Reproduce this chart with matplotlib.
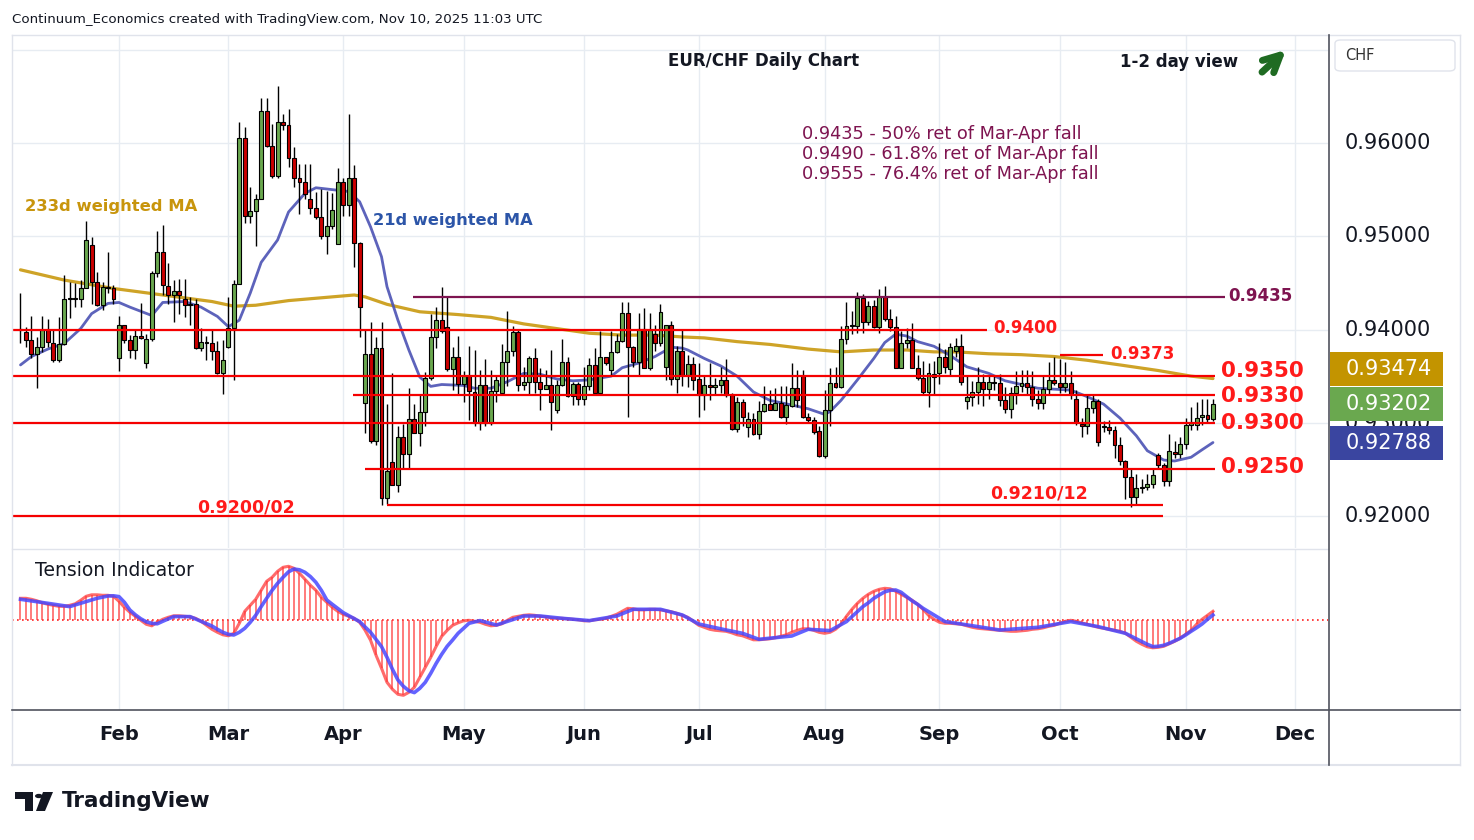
import numpy as np
import pandas as pd
import matplotlib
matplotlib.use('Agg')
import matplotlib.pyplot as plt
from matplotlib.lines import Line2D
from matplotlib.patches import Rectangle, Polygon, Circle, FancyBboxPatch

# ---- data: EUR/CHF daily candles, 8 Jan 2025 .. 10 Nov 2025 ----
dates = pd.bdate_range('2025-01-08', '2025-11-10')

opens = [
    .9400, .9397, .9389, .9374, .9381, .9400, .9386, .9367, .9384, .9433,
    .9434, .9433, .9445, .9491, .9451, .9426, .9446, .9444, .9369, .9405,
    .9389, .9378, .9393, .9364, .9390, .9461, .9483, .9447, .9437, .9441,
    .9433, .9427, .9427, .9380, .9387, .9386, .9377, .9353, .9381, .9402,
    .9449, .9605,
    .9522, .9527, .9540, .9634, .9597, .9565, .9622, .9619, .9584, .9562,
    .9558, .9540, .9530, .9521, .9500, .9511, .9492, .9558, .9534, .9562,
    .9493, .9321, .9374, .9280, .9380, .9219, .9258, .9233, .9285, .9266,
    .9304, .9289, .9311, .9348, .9392, .9410, .9403,
    .9358, .9371, .9342, .9350, .9333, .9300, .9340, .9300, .9334, .9332,
    .9365, .9377, .9397, .9341, .9344, .9369, .9344, .9336, .9341, .9314,
    .9341, .9365, .9329, .9342, .9326, .9339, .9362, .9332, .9371, .9357,
    .9376, .9388, .9418, .9381, .9365, .9401, .9359, .9395, .9385, .9360,
    .9405, .9347,
    .9377, .9351, .9363, .9347, .9330, .9341, .9338, .9341, .9346, .9330,
    .9293, .9322, .9295, .9304, .9288, .9313, .9320, .9314, .9321, .9306,
    .9318, .9337, .9350, .9306, .9303, .9291, .9264, .9314, .9343, .9338,
    .9390, .9404, .9404, .9434, .9408, .9425, .9403, .9435, .9411, .9403,
    .9359, .9386, .9389, .9359, .9348, .9333,
    .9352, .9353, .9370, .9358, .9377, .9382, .9323, .9328, .9333, .9344,
    .9336, .9344, .9343, .9324, .9315, .9332, .9339, .9343, .9338, .9325,
    .9321, .9336, .9346, .9343, .9338, .9343, .9326, .9299, .9297, .9316,
    .9323, .9296, .9295, .9292, .9276, .9259, .9242, .9220, .9230, .9231,
    .9234, .9265, .9255, .9237, .9269, .9267, .9277, .9298, .9298, .9306,
    .9308, .9304,
]
highs = [
    .9439, .9403, .9415, .9392, .9415, .9411, .9401, .9413, .9458, .9451,
    .9450, .9453, .9516, .9499, .9462, .9451, .9483, .9448, .9415, .9405,
    .9394, .9399, .9428, .9395, .9463, .9506, .9512, .9471, .9453, .9454,
    .9454, .9435, .9433, .9402, .9393, .9400, .9388, .9389, .9435, .9453,
    .9622, .9617,
    .9553, .9545, .9648, .9648, .9620, .9661, .9631, .9636, .9596, .9578,
    .9578, .9578, .9547, .9551, .9548, .9546, .9573, .9562, .9631, .9576,
    .9494, .9401, .9408, .9392, .9408, .9320, .9353, .9296, .9299, .9337,
    .9320, .9331, .9354, .9417, .9424, .9446, .9435,
    .9381, .9393, .9355, .9382, .9378, .9357, .9368, .9357, .9350, .9384,
    .9420, .9404, .9400, .9360, .9372, .9380, .9359, .9357, .9378, .9346,
    .9390, .9371, .9344, .9344, .9360, .9369, .9380, .9398, .9371, .9398,
    .9395, .9429, .9429, .9382, .9418, .9423, .9418, .9405, .9427, .9405,
    .9409, .9382,
    .9400, .9373, .9371, .9364, .9350, .9364, .9348, .9360, .9368, .9332,
    .9328, .9325, .9312, .9310, .9323, .9339, .9335, .9337, .9339, .9339,
    .9364, .9357, .9357, .9310, .9306, .9296, .9335, .9359, .9360, .9404,
    .9429, .9420, .9440, .9438, .9431, .9432, .9443, .9447, .9422, .9414,
    .9398, .9402, .9407, .9373, .9366, .9364,
    .9366, .9386, .9379, .9385, .9391, .9395, .9350, .9345, .9360, .9352,
    .9350, .9350, .9352, .9338, .9338, .9355, .9357, .9357, .9355, .9335,
    .9350, .9365, .9370, .9368, .9365, .9355, .9335, .9305, .9330, .9330,
    .9325, .9302, .9303, .9297, .9285, .9260, .9250, .9245, .9240, .9245,
    .9252, .9268, .9257, .9288, .9280, .9285, .9305, .9317, .9322, .9325,
    .9326, .9325,
]
lows = [
    .9385, .9381, .9369, .9337, .9376, .9381, .9365, .9365, .9383, .9412,
    .9424, .9424, .9444, .9427, .9425, .9421, .9439, .9427, .9356, .9385,
    .9369, .9368, .9390, .9359, .9388, .9456, .9437, .9427, .9408, .9417,
    .9413, .9405, .9379, .9377, .9367, .9367, .9352, .9331, .9380, .9346,
    .9449, .9514,
    .9514, .9490, .9540, .9596, .9563, .9563, .9614, .9574, .9553, .9524,
    .9540, .9524, .9518, .9497, .9481, .9508, .9492, .9522, .9522, .9467,
    .9392, .9289, .9278, .9276, .9212, .9213, .9233, .9226, .9251, .9251,
    .9289, .9275, .9296, .9346, .9380, .9396, .9356,
    .9335, .9330, .9322, .9303, .9297, .9292, .9296, .9298, .9322, .9330,
    .9339, .9372, .9334, .9335, .9330, .9332, .9314, .9337, .9292, .9310,
    .9339, .9328, .9319, .9319, .9319, .9335, .9332, .9332, .9362, .9350,
    .9375, .9387, .9306, .9360, .9350, .9359, .9357, .9377, .9382, .9346,
    .9341, .9332,
    .9339, .9338, .9335, .9306, .9314, .9324, .9330, .9332, .9328, .9292,
    .9290, .9296, .9285, .9287, .9283, .9312, .9314, .9314, .9305, .9299,
    .9317, .9317, .9305, .9301, .9288, .9263, .9262, .9297, .9337, .9337,
    .9384, .9395, .9396, .9396, .9405, .9402, .9396, .9409, .9398, .9359,
    .9359, .9380, .9359, .9346, .9330, .9317,
    .9330, .9342, .9353, .9350, .9370, .9340, .9315, .9318, .9320, .9318,
    .9325, .9335, .9318, .9310, .9305, .9320, .9333, .9330, .9318, .9315,
    .9315, .9330, .9340, .9332, .9333, .9325, .9298, .9285, .9288, .9310,
    .9275, .9290, .9288, .9262, .9255, .9218, .9210, .9212, .9225, .9228,
    .9230, .9250, .9232, .9232, .9262, .9262, .9272, .9292, .9292, .9298,
    .9300, .9302,
]
closes = [
    .9401, .9389, .9374, .9381, .9399, .9387, .9367, .9384, .9433, .9434,
    .9433, .9445, .9496, .9451, .9426, .9446, .9444, .9433, .9405, .9389,
    .9378, .9393, .9391, .9390, .9461, .9483, .9448, .9437, .9441, .9437,
    .9426, .9426, .9380, .9387, .9386, .9377, .9353, .9367, .9402, .9449,
    .9605, .9522,
    .9527, .9540, .9634, .9597, .9565, .9622, .9619, .9584, .9562, .9558,
    .9545, .9530, .9521, .9500, .9511, .9528, .9558, .9534, .9562, .9493,
    .9424, .9374, .9280, .9380, .9219, .9248, .9233, .9285, .9266, .9304,
    .9289, .9311, .9348, .9392, .9410, .9398, .9358,
    .9371, .9342, .9350, .9334, .9300, .9340, .9300, .9334, .9346, .9365,
    .9377, .9397, .9341, .9344, .9369, .9344, .9336, .9341, .9322, .9341,
    .9365, .9329, .9342, .9326, .9339, .9362, .9332, .9371, .9364, .9376,
    .9388, .9418, .9381, .9365, .9401, .9359, .9400, .9385, .9419, .9405,
    .9347, .9377,
    .9351, .9363, .9346, .9330, .9341, .9338, .9341, .9346, .9330, .9293,
    .9322, .9306, .9304, .9288, .9313, .9320, .9314, .9321, .9306, .9319,
    .9337, .9324, .9306, .9303, .9290, .9264, .9314, .9343, .9338, .9390,
    .9404, .9405, .9434, .9408, .9425, .9403, .9435, .9411, .9403, .9359,
    .9386, .9389, .9359, .9348, .9333, .9353,
    .9349, .9370, .9360, .9381, .9382, .9344, .9328, .9333, .9344, .9336,
    .9344, .9343, .9324, .9315, .9332, .9339, .9343, .9338, .9325, .9321,
    .9336, .9346, .9343, .9338, .9343, .9331, .9301, .9297, .9316, .9323,
    .9279, .9295, .9292, .9276, .9259, .9242, .9220, .9230, .9231, .9234,
    .9244, .9255, .9237, .9270, .9267, .9277, .9298, .9300, .9305, .9308,
    .9304, .93202,
]

# moving averages (candle number, value)
ma21_idx = [0, 2, 5, 8, 11, 13, 16, 18, 20, 24, 26, 30, 33, 36, 38, 40, 42, 44, 47, 49,
            52, 54, 57, 60, 62, 64, 66, 67, 69, 71, 73, 75, 77, 81, 83, 86, 89, 92, 95, 98,
            101, 104, 108, 110, 113, 116, 119, 121, 122, 125, 128, 131, 134, 137, 141, 144,
            147, 148, 150, 153, 156, 158, 160, 162, 164, 167, 170, 173, 177, 180, 183, 186,
            189, 192, 195, 198, 201, 204, 206, 209, 211, 214, 216, 218]
ma21_val = [.9362, .9371, .9379, .9385, .9401, .9417, .9428, .9429, .9424, .9415, .9429,
            .9430, .9424, .9414, .9403, .9410, .9439, .9472, .9496, .9526, .9546, .9552,
            .9550, .9548, .9537, .9510, .9478, .9446, .9410, .9378, .9349, .9339, .9341,
            .9340, .9337, .9337, .9344, .9353, .9352, .9347, .9345, .9346, .9350, .9359,
            .9364, .9371, .9381, .9380, .9378, .9369, .9361, .9350, .9333, .9324, .9319,
            .9315, .9309, .9312, .9324, .9346, .9369, .9386, .9395, .9393, .9387, .9382,
            .9372, .9360, .9353, .9345, .9341, .9337, .9336, .9335, .9328, .9320, .9305,
            .9286, .9270, .9260, .9259, .9263, .9271, .92788]
ma233_idx = [0, 8, 17, 26, 35, 39, 43, 49, 55, 61, 63, 67, 73, 80, 86, 92, 98, 104, 110,
             116, 121, 125, 131, 137, 144, 150, 156, 162, 167, 171, 177, 183, 189, 195,
             201, 208, 214, 218]
ma233_val = [.9464, .9453, .9444, .9437, .9430, .9425, .9426, .9431, .9434, .9437, .9435,
             .9427, .9419, .9416, .9413, .9406, .9401, .9396, .9394, .9394, .9392, .9391,
             .9387, .9384, .9379, .9376, .9378, .9378, .9376, .9376, .9374, .9373, .9371,
             .9367, .9362, .9356, .9350, .93474]

# Tension Indicator (one value per candle) and its signal line
tension = [
    2.2, 2.2, 2.1, 1.95, 1.75, 1.6, 1.5, 1.4, 1.4, 1.5,
    1.65, 2.0, 2.4, 2.55, 2.55, 2.5, 2.5, 2.4, 1.9, 1.3,
    0.8, 0.4, 0.0, -0.4, -0.55, -0.2, 0.1, 0.3, 0.45, 0.45,
    0.4, 0.35, 0.2, -0.1, -0.5, -0.9, -1.2, -1.45, -1.55, -1.3,
    -0.3, 0.9, 1.5, 2.1, 3.0, 3.9, 4.3, 4.9, 5.3, 5.4,
    5.2, 4.7, 4.1, 3.5, 3.0, 2.3, 1.8, 1.3, 0.9, 0.6,
    0.4, 0.2, -0.2, -1.0, -2.0, -3.5, -4.8, -6.2, -6.9, -7.4,
    -7.5, -7.2, -6.7, -5.7, -4.7, -3.7, -2.6, -1.6, -1.0, -0.5,
    -0.25, -0.05, 0.0, -0.1, -0.2, -0.4, -0.55, -0.5, -0.35, 0.0,
    0.3, 0.4, 0.5, 0.55, 0.5, 0.4, 0.35, 0.25, 0.2, 0.2,
    0.15, 0.1, 0.05, -0.05, -0.05, 0.05, 0.1, 0.2, 0.4, 0.6,
    0.9, 1.2, 1.15, 1.05, 1.05, 1.1, 1.1, 1.05, 0.95, 0.85,
    0.7, 0.5, 0.3, -0.1, -0.5, -0.7, -0.9, -1.0, -1.05, -1.1,
    -1.25, -1.45, -1.55, -1.75, -1.95, -1.95, -1.9, -1.85, -1.75, -1.6,
    -1.45, -1.2, -1.0, -0.85, -0.85, -1.0, -1.2, -1.3, -1.2, -0.9,
    -0.4, 0.4, 1.1, 1.7, 2.2, 2.6, 2.9, 3.1, 3.2, 3.15,
    2.9, 2.6, 2.3, 2.0, 1.6, 1.1, 0.5, 0.1, -0.2, -0.3,
    -0.3, -0.35, -0.4, -0.55, -0.7, -0.8, -0.85, -0.9, -0.95, -1.0,
    -1.05, -1.1, -1.1, -1.05, -1.0, -0.9, -0.85, -0.75, -0.6, -0.5,
    -0.3, -0.1, 0.0, -0.1, -0.25, -0.4, -0.55, -0.7, -0.8, -0.9,
    -1.0, -1.1, -1.3, -1.7, -2.1, -2.4, -2.65, -2.75, -2.7, -2.6,
    -2.35, -2.1, -1.8, -1.4, -1.0, -0.4, 0.1, 0.5, 0.9,
]
sig_idx = [0, 5, 9, 12, 14, 16, 17, 18, 19, 20, 21, 22, 23, 24, 25, 26, 28, 31, 35, 36,
           37, 38, 39, 40, 41, 42, 43, 44, 45, 46, 47, 48, 49, 50, 51, 52, 53, 54, 55, 56,
           57, 59, 62, 64, 66, 67, 68, 69, 70, 71, 72, 73, 74, 75, 76, 77, 78, 79, 80, 82,
           84, 87, 92, 95, 99, 104, 109, 112, 117, 121, 124, 129, 132, 135, 141, 144, 148,
           151, 154, 155, 156, 157, 158, 159, 160, 161, 162, 163, 164, 165, 169, 172, 179,
           186, 192, 197, 202, 205, 206, 207, 208, 209, 210, 211, 212, 213, 214, 215, 216,
           217, 218]
sig_val = [2.1, 1.7, 1.37, 1.87, 2.2, 2.43, 2.45, 2.37, 1.8, 1.03, 0.55, 0.15, -0.15, -0.3,
           -0.35, -0.1, 0.37, 0.37, -0.57, -0.9, -1.2, -1.4, -1.47, -1.2, -0.8, -0.2, 0.5,
           1.37, 2.2, 3.0, 3.7, 4.3, 4.85, 5.13, 5.05, 4.8, 4.37, 3.8, 3.0, 2.03, 1.6, 0.77,
           -0.13, -1.2, -2.63, -3.7, -4.9, -5.97, -6.6, -7.05, -7.23, -6.8, -6.2, -5.3, -4.3,
           -3.4, -2.6, -1.97, -1.3, -0.3, -0.03, -0.47, 0.43, 0.43, 0.2, -0.03, 0.43, 1.1,
           1.1, 0.53, -0.37, -0.97, -1.3, -1.9, -1.57, -0.9, -1.03, -0.13, 1.37, 1.75, 2.2,
           2.53, 2.85, 3.0, 3.03, 2.8, 2.37, 1.95, 1.6, 1.2, -0.13, -0.37, -0.97, -0.7, -0.13,
           -0.63, -1.3, -2.13, -2.4, -2.63, -2.6, -2.5, -2.3, -2.05, -1.8, -1.47, -1.1, -0.75,
           -0.37, 0.1, 0.53]

# support / resistance levels drawn on the chart
levels = [0.9435, 0.9400, 0.9373, 0.9350, 0.9330, 0.9300, 0.9250, 0.9212, 0.9200]
level_labels = ['0.9435', '0.9400', '0.9373', '0.9350', '0.9330', '0.9300', '0.9250',
                '0.9210/12', '0.9200/02']
ret_notes = ['0.9435 - 50% ret of Mar-Apr fall',
             '0.9490 - 61.8% ret of Mar-Apr fall',
             '0.9555 - 76.4% ret of Mar-Apr fall']
price_ticks = [0.92, 0.93, 0.94, 0.95, 0.96]

# ---- layout helpers (pixel based, 1474x840) ----
W, H = 1474, 840
X0, DX = 20.5, 5.47            # pixel x of first candle, pixels per candle


def xi(px):
    return (px - X0) / DX


def price_at(py):
    return 0.92 + (516 - py) / 9325.0


def pline(x0, y0, x1, y1, **kw):
    fig.add_artist(Line2D([x0 / W, x1 / W], [1 - y0 / H, 1 - y1 / H],
                          transform=fig.transFigure, **kw))


def ptext(px, py, s, **kw):
    return fig.text(px / W, 1 - py / H, s, **kw)


GREEN, RED = '#6aa84f', '#cc0000'
LVL_RED = '#f50000'
PURPLE = '#7e1450'
GOLD = '#c9990f'
BLUE21 = '#4b52b4'
GRID = '#e7ecf2'

fig = plt.figure(figsize=(W / 100, H / 100), dpi=100)
fig.patch.set_facecolor('white')

ax = fig.add_axes([12 / W, 1 - 548 / H, 1316 / W, 513 / H])
ax2 = fig.add_axes([12 / W, 1 - 710 / H, 1316 / W, 160 / H])
for a in (ax, ax2):
    a.set_xlim(xi(12), xi(1328))
    for s in a.spines.values():
        s.set_visible(False)
    a.set_xticks([])
    a.set_yticks([])
ax.set_ylim(price_at(548), price_at(35))
ax2.set_ylim((620.3 - 710) / 10, (620.3 - 550) / 10)

# month positions from the business-day calendar
cal = pd.bdate_range('2025-01-08', '2025-12-31')
first = [i for i in range(1, len(cal)) if cal[i].month != cal[i - 1].month]
for i in first:
    ax.axvline(i, color=GRID, lw=1, zorder=0)
    ax2.axvline(i, color=GRID, lw=1, zorder=0)
    ax2.text(i, (710 - 735) / 160, cal[i].strftime('%b'), transform=ax2.get_xaxis_transform(),
             ha='center', va='center', fontsize=14, fontweight='bold', color='#131722')
for v in price_ticks + [0.97]:
    ax.axhline(v, color=GRID, lw=1, zorder=0)

# ---- candles ----
idx = np.arange(len(dates))
ax.vlines(idx, lows, highs, color='black', lw=1, zorder=3)
for i, o, c in zip(idx, opens, closes):
    col = GREEN if c >= o else RED
    ax.add_patch(Rectangle((i - 0.36, min(o, c)), 0.72, max(abs(c - o), 0.00004),
                           facecolor=col, edgecolor='black', lw=0.8, zorder=4))

# moving averages
ax.plot(ma233_idx, ma233_val, color=GOLD, lw=2.3, alpha=0.9, zorder=2,
        solid_capstyle='round', solid_joinstyle='round')
ax.plot(ma21_idx, ma21_val, color=BLUE21, lw=2.0, alpha=0.9, zorder=2,
        solid_capstyle='round', solid_joinstyle='round')

# ---- levels (extents & label spots in pixels) ----
lvl_style = {
    0.9435: dict(x0=413, x1=1225, col=PURPLE, lab=(1228, 296, 12)),
    0.9400: dict(x0=12, x1=987, col=LVL_RED, lab=(993, 328, 12)),
    0.9373: dict(x0=1060, x1=1103, col=LVL_RED, lab=(1110, 354, 12)),
    0.9350: dict(x0=12, x1=1215, col=LVL_RED, lab=(1221, 371, 15.5)),
    0.9330: dict(x0=353, x1=1215, col=LVL_RED, lab=(1221, 396, 15.5)),
    0.9300: dict(x0=12, x1=1215, col=LVL_RED, lab=(1221, 423, 15.5)),
    0.9250: dict(x0=365, x1=1215, col=LVL_RED, lab=(1221, 467, 15.5)),
    0.9212: dict(x0=387, x1=1163, col=LVL_RED, lab=(990, 494, 12.5)),
    0.9200: dict(x0=12, x1=1163, col=LVL_RED, lab=(197, 507, 12.5)),
}
for lv, lab in zip(levels, level_labels):
    st = lvl_style[lv]
    ax.hlines(lv, xi(st['x0']), xi(st['x1']), color=st['col'], lw=1.6, zorder=5)
    lx, ly, fs = st['lab']
    ptext(lx, ly, lab, ha='left', va='center', fontsize=fs, fontweight='bold',
          color=PURPLE if lv == 0.9435 else '#ff1a1a', zorder=4)

# ---- tension indicator ----
ax2.vlines(idx, 0, tension, color='#ff3a3a', lw=1.1, alpha=0.85, zorder=2)
ax2.plot(idx, tension, color='#ff3a3a', lw=2.2, alpha=0.75, zorder=3)
ax2.plot(sig_idx, sig_val, color='#4848ff', lw=2.6, alpha=0.85, zorder=4,
         solid_joinstyle='round')
ax2.axhline(0, color='#ff2020', lw=1.2, ls=(0, (1, 2)), zorder=1)

# ---- texts ----
ptext(12, 19, 'Continuum_Economics created with TradingView.com, Nov 10, 2025 11:03 UTC',
      fontsize=9.6, va='center', color='#131722')
ptext(764, 61, 'EUR/CHF Daily Chart', fontsize=12, fontweight='bold', ha='center',
      va='center', color='#131722')
ptext(1120, 62, '1-2 day view', fontsize=12, fontweight='bold', va='center', color='#131722')
ax.annotate('', xy=(1288, H - 48), xytext=(1260, H - 74), xycoords='figure pixels',
            textcoords='figure pixels',
            arrowprops=dict(arrowstyle='->', lw=5, color='#1f6b22', mutation_scale=30))
for k, note in enumerate(ret_notes):
    ptext(802, 134 + 20 * k, note, fontsize=12.8, va='center', color=PURPLE)
ptext(25, 206, '233d weighted MA', fontsize=11.8, fontweight='bold', va='center', color='#c8950c')
ptext(373, 220, '21d weighted MA', fontsize=11.7, fontweight='bold', va='center', color='#2c55a8')
ptext(35, 570, 'Tension Indicator', fontsize=13.5, va='center', color='#131722')

# right price scale
for v in price_ticks:
    yd = ax.transData.transform((0, v))[1]
    fig.text(1345 / W, yd / H, '%.5f' % v, fontsize=15, va='center', color='#131722', zorder=3)

fig.add_artist(FancyBboxPatch((1335 / W, 1 - 71 / H), 120 / W, 31 / H,
                              boxstyle='round,pad=0,rounding_size=0.004',
                              transform=fig.transFigure, facecolor='white',
                              edgecolor='#e0e3eb', lw=1, zorder=2))
ptext(1345, 55, 'CHF', fontsize=10.5, va='center', color='#333333')

# last-value tags
tag_vals = [(closes[-1], GREEN), (ma21_val[-1], '#3a45a0'), (ma233_val[-1], '#c39400')]
green_y = ax.transData.transform((0, closes[-1]))[1]
for v, col in tag_vals:
    yd = ax.transData.transform((0, v))[1]
    if col == '#c39400':
        yd = max(yd, green_y + 35)
    fig.add_artist(Rectangle((1330 / W, (yd - 17) / H), 113 / W, 34 / H,
                             transform=fig.transFigure, facecolor=col, edgecolor='none', zorder=5))
    fig.text(1346 / W, yd / H, '%.5f' % v, fontsize=15, va='center', color='white', zorder=6)

# frame lines
pline(12, 35, 1460, 35, color='#e0e3eb', lw=1)
pline(12, 765, 1460, 765, color='#e0e3eb', lw=1.5)
pline(12, 35, 12, 765, color='#e0e3eb', lw=1)
pline(1460, 35, 1460, 765, color='#e0e3eb', lw=1)
pline(12, 549, 1328, 549, color='#e0e3eb', lw=1)
pline(12, 710, 1460, 710, color='#50535e', lw=1.2)
pline(1328.5, 35, 1328.5, 765, color='#50535e', lw=1.2)


# TradingView logo
def ppoly(pts, **kw):
    fig.add_artist(Polygon([(x / W, 1 - y / H) for x, y in pts], closed=True,
                           transform=fig.transFigure, **kw))


ppoly([(15, 792), (33, 792), (33, 811), (25, 811), (25, 799), (15, 799)], facecolor='#131722')
ppoly([(43, 792), (53, 792), (45, 811), (36, 811)], facecolor='#131722')
fig.add_artist(Circle((38.8 / W, 1 - 796 / H), 3.8 / W, transform=fig.transFigure,
                      facecolor='#131722'))
ptext(62, 801, 'TradingView', fontsize=15.5, fontweight='bold', va='center', color='#131722')

fig.savefig('out.png', dpi=100)
